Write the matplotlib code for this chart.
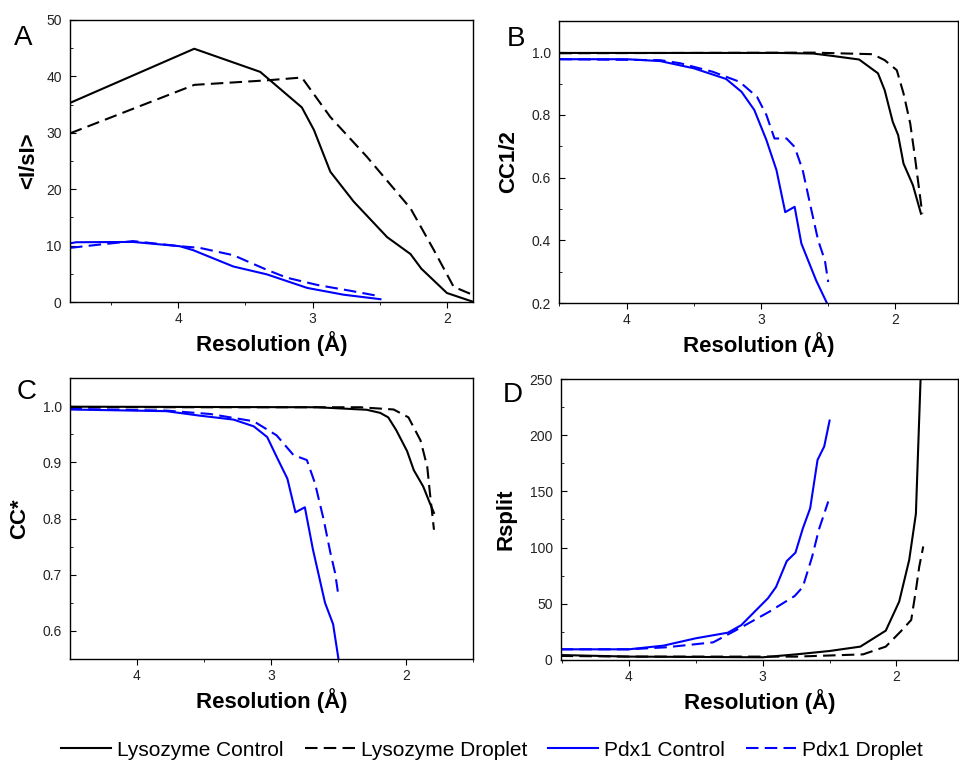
import matplotlib
matplotlib.use("Agg")
import matplotlib.pyplot as plt
from matplotlib.ticker import MultipleLocator

plt.rcParams["font.family"] = ["Liberation Sans", "DejaVu Sans"]

# ---- data: (resolution in A, value) ----
# panel A, <I/sI>
a_lc_x = [4.806, 3.881, 3.39, 3.08, 2.99, 2.868, 2.694, 2.445, 2.271, 2.19, 2.0, 1.80]
a_lc_y = [35.3, 44.9, 40.8, 34.5, 30.5, 23.1, 17.8, 11.5, 8.5, 5.9, 1.6, 0.0]
a_ld_x = [4.806, 3.88, 3.34, 3.08, 2.868, 2.594, 2.271, 2.097, 1.95, 1.80]
a_ld_y = [29.9, 38.5, 39.3, 39.8, 32.8, 25.7, 16.6, 9.2, 2.7, 1.2]
a_pc_x = [4.806, 4.76, 4.336, 3.99, 3.89, 3.59, 3.34, 3.04, 2.77, 2.495]
a_pc_y = [10.4, 10.6, 10.65, 9.9, 9.2, 6.3, 4.9, 2.5, 1.3, 0.5]
a_pd_x = [4.806, 4.58, 4.336, 3.99, 3.84, 3.59, 3.34, 3.19, 2.96, 2.72, 2.495]
a_pd_y = [9.6, 10.2, 10.8, 9.9, 9.6, 8.3, 5.7, 4.3, 3.0, 2.0, 1.0]

# panel B, CC1/2
b_lc_x = [4.5, 2.86, 2.61, 2.46, 2.27, 2.13, 2.08, 2.02, 1.98, 1.94, 1.87, 1.81]
b_lc_y = [0.998, 0.998, 0.996, 0.988, 0.977, 0.933, 0.879, 0.778, 0.736, 0.645, 0.576, 0.485]
b_ld_x = [4.5, 2.61, 2.17, 2.08, 1.99, 1.94, 1.89, 1.855, 1.82, 1.80]
b_ld_y = [0.997, 0.999, 0.994, 0.975, 0.943, 0.869, 0.773, 0.666, 0.55, 0.485]
b_pc_x = [4.5, 4.0, 3.75, 3.50, 3.26, 3.145, 3.05, 2.96, 2.885, 2.82, 2.75, 2.70, 2.59, 2.51]
b_pc_y = [0.978, 0.978, 0.972, 0.949, 0.915, 0.874, 0.816, 0.72, 0.624, 0.49, 0.507, 0.39, 0.272, 0.2]
b_pd_x = [4.5, 3.75, 3.60, 3.36, 3.16, 3.03, 2.96, 2.9, 2.81, 2.75, 2.69, 2.625, 2.575, 2.525, 2.50]
b_pd_y = [0.978, 0.975, 0.965, 0.938, 0.906, 0.858, 0.80, 0.725, 0.725, 0.698, 0.624, 0.496, 0.40, 0.336, 0.267]

# panel C, CC*
c_lc_x = [4.5, 2.66, 2.29, 2.19, 2.13, 2.07, 1.99, 1.94, 1.87, 1.82, 1.79]
c_lc_y = [0.999, 0.998, 0.9935, 0.988, 0.98, 0.957, 0.92, 0.886, 0.857, 0.827, 0.81]
c_ld_x = [4.5, 2.34, 2.09, 1.98, 1.89, 1.84, 1.82, 1.79]
c_ld_y = [0.998, 0.998, 0.994, 0.98, 0.939, 0.892, 0.845, 0.78]
c_pc_x = [4.5, 3.78, 3.53, 3.28, 3.13, 3.03, 2.96, 2.88, 2.82, 2.75, 2.69, 2.60, 2.54, 2.50]
c_pc_y = [0.994, 0.991, 0.983, 0.976, 0.964, 0.945, 0.91, 0.871, 0.811, 0.82, 0.745, 0.65, 0.612, 0.55]
c_pd_x = [4.5, 3.78, 3.455, 3.13, 2.96, 2.835, 2.735, 2.675, 2.61, 2.56, 2.525, 2.50]
c_pd_y = [0.995, 0.992, 0.986, 0.973, 0.948, 0.913, 0.904, 0.863, 0.798, 0.739, 0.703, 0.662]

# panel D, Rsplit
d_lc_x = [4.51, 4.0, 3.0, 2.75, 2.5, 2.27, 2.08, 1.98, 1.905, 1.855, 1.82]
d_lc_y = [4.4, 3.0, 2.4, 5.0, 8.0, 11.9, 26.1, 51.9, 89, 130, 250]
d_ld_x = [4.51, 4.0, 2.75, 2.25, 2.08, 1.97, 1.89, 1.855, 1.83, 1.80]
d_ld_y = [3.6, 3.0, 3.0, 5.0, 11.9, 25.2, 35.6, 62, 83, 101]
d_pc_x = [4.51, 4.0, 3.74, 3.50, 3.26, 3.16, 2.96, 2.90, 2.82, 2.755, 2.70, 2.645, 2.59, 2.54, 2.50]
d_pc_y = [9.5, 9.5, 12.8, 19.3, 24.3, 31, 55, 65, 88, 95.5, 117, 135, 178, 190, 213]
d_pd_x = [4.51, 4.0, 3.72, 3.37, 3.22, 3.15, 2.95, 2.76, 2.70, 2.63, 2.58, 2.51]
d_pd_y = [9.5, 9.5, 11.3, 15.7, 25.2, 29.7, 43, 57, 65, 92, 116, 141]

series_names = ["Lysozyme Control", "Lysozyme Droplet", "Pdx1 Control", "Pdx1 Droplet"]
colors = ["black", "black", "blue", "blue"]
solid = [True, False, True, False]

panels = [
    ("A", "<I/sI>", [(a_lc_x, a_lc_y), (a_ld_x, a_ld_y), (a_pc_x, a_pc_y), (a_pd_x, a_pd_y)],
     (4.806, 1.806), (0, 50), 10, [0.073, 0.6026, 0.4202, 0.3711], -0.077, (23, 38)),
    ("B", "CC1/2", [(b_lc_x, b_lc_y), (b_ld_x, b_ld_y), (b_pc_x, b_pc_y), (b_pd_x, b_pd_y)],
     (4.503, 1.535), (0.2, 1.1), 0.2, [0.5829, 0.6013, 0.4160, 0.3711], -0.10, (516, 39)),
    ("C", "CC*", [(c_lc_x, c_lc_y), (c_ld_x, c_ld_y), (c_pc_x, c_pc_y), (c_pd_x, c_pd_y)],
     (4.496, 1.50), (0.55, 1.05), 0.1, [0.073, 0.1329, 0.4202, 0.3697], -0.099, (27, 392)),
    ("D", "Rsplit", [(d_lc_x, d_lc_y), (d_ld_x, d_ld_y), (d_pc_x, d_pc_y), (d_pd_x, d_pd_y)],
     (4.507, 1.54), (0, 250), 50, [0.585, 0.1316, 0.4140, 0.3697], -0.113, (513, 395)),
]

fig = plt.figure(figsize=(9.59, 7.6), dpi=100)

handles = []
for letter, ylab, data, xlim, ylim, ystep, rect, ylab_x, letter_xy in panels:
    ax = fig.add_axes(rect)
    lines = []
    for (x, y), c, s, name in zip(data, colors, solid, series_names):
        if s:
            ln, = ax.plot(x, y, color=c, lw=1.5, label=name)
        else:
            ln, = ax.plot(x, y, color=c, lw=1.5, ls=(0, (6, 3)), label=name)
        lines.append(ln)
    handles = lines
    ax.set_xlim(*xlim)
    ax.set_ylim(*ylim)
    ax.xaxis.set_major_locator(MultipleLocator(1))
    ax.xaxis.set_minor_locator(MultipleLocator(0.5))
    ax.yaxis.set_major_locator(MultipleLocator(ystep))
    ax.yaxis.set_minor_locator(MultipleLocator(ystep / 2))
    ax.tick_params(axis="x", which="both", direction="out", colors="black", labelcolor="#222222",
                   labelsize=10, pad=3)
    ax.tick_params(axis="x", which="major", length=4)
    ax.tick_params(axis="x", which="minor", length=2)
    ax.tick_params(axis="y", which="both", direction="in", colors="black", labelcolor="#222222",
                   labelsize=10, pad=6)
    ax.tick_params(axis="y", which="major", length=4)
    ax.tick_params(axis="y", which="minor", length=2.5)
    for sp in ax.spines.values():
        sp.set_linewidth(1.0)
    ax.set_xlabel("Resolution (Å)", fontsize=16, fontweight="bold", labelpad=4)
    ax.set_ylabel(ylab, fontsize=16, fontweight="bold")
    ax.yaxis.set_label_coords(ylab_x, 0.5)
    fig.text(letter_xy[0] / 959, 1 - letter_xy[1] / 760, letter, fontsize=20,
             ha="center", va="center")

fig.legend(handles, series_names, loc="center", bbox_to_anchor=(0.513, 1 - 750 / 760),
           ncol=4, frameon=False, handlelength=2.4, handletextpad=0.3, columnspacing=1.0,
           prop={"size": 15})

fig.savefig("out.png", dpi=100)
